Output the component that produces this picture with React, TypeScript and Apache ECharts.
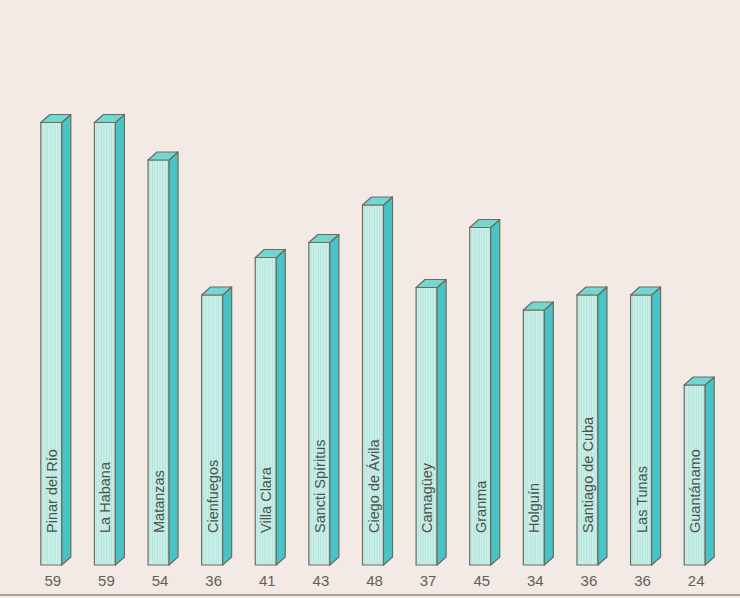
import React, { useEffect, useRef } from "react";
import * as echarts from "echarts";

const categories = [
  "Pinar del Río",
  "La Habana",
  "Matanzas",
  "Cienfuegos",
  "Villa Clara",
  "Sancti Spíritus",
  "Ciego de Ávila",
  "Camagüey",
  "Granma",
  "Holguín",
  "Santiago de Cuba",
  "Las Tunas",
  "Guantánamo",
];
const values = [59, 59, 54, 36, 41, 43, 48, 37, 45, 34, 36, 36, 24];

const FRONT_W = 21;
const SIDE_W = 9;
const DEPTH = 8;
const OUTLINE = "#6f6a5c";

export default function App() {
  const ref = useRef<HTMLDivElement>(null);
  useEffect(() => {
    document.body.style.margin = "0";
    const chart = echarts.init(ref.current!, null, { renderer: "svg" });
    const data = values.map((v, i) => [i, v]);
    chart.setOption({
      animation: false,
      backgroundColor: "#f3eae5",
      grid: { left: 29, right: 14, top: 40, bottom: 33 },
      xAxis: {
        type: "category",
        data: categories,
        show: false,
        boundaryGap: true,
      },
      yAxis: { type: "value", min: 0, max: 70, show: false },
      graphic: [
        {
          type: "line",
          shape: { x1: 0, y1: 595, x2: 740, y2: 595 },
          style: { stroke: "#8d8a86", lineWidth: 1.5 },
        },
      ],
      series: [
        {
          type: "custom",
          data,
          encode: { x: 0, y: 1 },
          renderItem: (params: any, api: any) => {
            const i = api.value(0);
            const v = api.value(1);
            const top = api.coord([i, v]);
            const base = api.coord([i, 0]);
            const x0 = top[0] - 15;
            const x1 = x0 + FRONT_W;
            const x2 = x1 + SIDE_W;
            const yt = top[1];
            const yb = base[1];
            const children: any[] = [];
            children.push({
              type: "rect",
              shape: { x: x0, y: yt, width: FRONT_W, height: yb - yt },
              style: { fill: "#cdf1ea", stroke: "none" },
            });
            for (let x = x0 + 2; x < x1 - 1; x += 2.5) {
              children.push({
                type: "line",
                shape: { x1: x, y1: yt + 1, x2: x, y2: yb - 1 },
                style: { stroke: "#a3dcd4", lineWidth: 0.7 },
              });
            }
            children.push({
              type: "rect",
              shape: { x: x0, y: yt, width: FRONT_W, height: yb - yt },
              style: { fill: "none", stroke: OUTLINE, lineWidth: 1.2 },
            });
            children.push({
              type: "polygon",
              shape: {
                points: [
                  [x1, yt],
                  [x2, yt - DEPTH],
                  [x2, yb - DEPTH],
                  [x1, yb],
                ],
              },
              style: { fill: "#47c4c7", stroke: OUTLINE, lineWidth: 1.2, lineJoin: "round" },
            });
            children.push({
              type: "polygon",
              shape: {
                points: [
                  [x0, yt],
                  [x0 + SIDE_W, yt - DEPTH],
                  [x2, yt - DEPTH],
                  [x1, yt],
                ],
              },
              style: { fill: "#72d6d2", stroke: OUTLINE, lineWidth: 1.2, lineJoin: "round" },
            });
            children.push({
              type: "text",
              x: x0 + FRONT_W / 2 + 0.5,
              y: yb - 32,
              rotation: Math.PI / 2,
              style: {
                text: categories[i],
                fill: "#4b524a",
                font: "14.5px 'Liberation Sans', Arial, sans-serif",
                textAlign: "left",
                textVerticalAlign: "middle",
              },
            });
            children.push({
              type: "text",
              x: x0 + 12,
              y: yb + 15,
              style: {
                text: String(v),
                fill: "#6a5b56",
                font: "15px 'Liberation Sans', Arial, sans-serif",
                textAlign: "center",
                textVerticalAlign: "middle",
              },
            });
            return { type: "group", children };
          },
        },
      ],
    });
    return () => chart.dispose();
  }, []);
  return <div ref={ref} style={{ width: 740, height: 598 }} />;
}
